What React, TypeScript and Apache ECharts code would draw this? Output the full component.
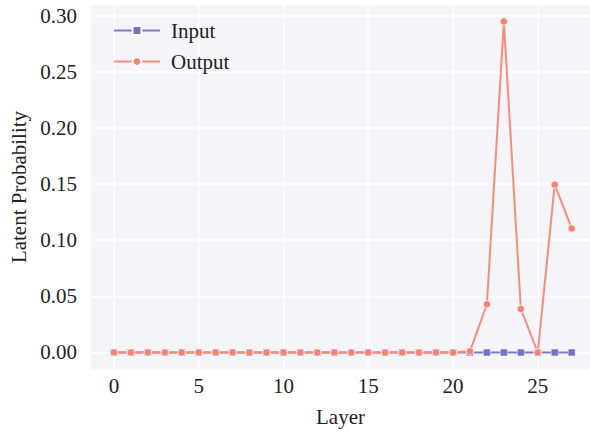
import React, { useEffect, useRef } from "react";
import * as echarts from "echarts";

const layers: number[] = Array.from({ length: 28 }, (_, i) => i);
const inputValues: number[] = [
  0, 0, 0, 0, 0, 0, 0, 0, 0, 0, 0, 0, 0, 0, 0, 0, 0, 0, 0, 0, 0, 0, 0, 0, 0, 0, 0, 0,
];
const outputValues: number[] = [
  0, 0, 0, 0, 0, 0, 0, 0, 0, 0, 0, 0, 0, 0, 0, 0, 0, 0, 0, 0, 0, 0.001, 0.043, 0.2948,
  0.0388, 0, 0.1495, 0.1105,
];
const xTicks: number[] = [0, 5, 10, 15, 20, 25];
const yTicks: number[] = [0, 0.05, 0.1, 0.15, 0.2, 0.25, 0.3];

const FONT = "Liberation Serif";

export default function App() {
  const ref = useRef<HTMLDivElement>(null);
  useEffect(() => {
    document.body.style.margin = "0";
    const chart = echarts.init(ref.current!, null, { renderer: "svg" });
    chart.setOption({
      animation: false,
      backgroundColor: "#ffffff",
      textStyle: { fontFamily: FONT },
      grid: {
        left: 91,
        right: 0,
        top: 5,
        bottom: 63,
        show: true,
        backgroundColor: "#f4f4f9",
        borderWidth: 0,
      },
      legend: {
        left: 108,
        top: 15,
        orient: "vertical",
        itemWidth: 46,
        itemHeight: 11,
        itemGap: 10,
        textStyle: { fontFamily: FONT, fontSize: 21, color: "#222", padding: [0, 0, 0, 6] },
        data: ["Input", "Output"],
      },
      xAxis: {
        type: "value",
        min: -1.35,
        max: 28.08,
        name: "Layer",
        nameLocation: "middle",
        nameGap: 37,
        nameTextStyle: { fontFamily: FONT, fontSize: 21, color: "#222" },
        axisLine: { show: false },
        axisTick: { show: false, customValues: xTicks },
        axisLabel: {
          customValues: xTicks,
          fontFamily: FONT,
          fontSize: 21,
          color: "#222",
          margin: 6,
        },
        splitLine: { show: true, lineStyle: { color: "#ffffff", width: 1.5 } },
      },
      yAxis: {
        type: "value",
        min: -0.0147,
        max: 0.3095,
        name: "Latent Probability",
        nameLocation: "middle",
        nameGap: 60,
        nameTextStyle: { fontFamily: FONT, fontSize: 21, color: "#222" },
        axisLine: { show: false },
        axisTick: { show: false, customValues: yTicks },
        axisLabel: {
          customValues: yTicks,
          fontFamily: FONT,
          fontSize: 21,
          color: "#222",
          margin: 14,
          formatter: (v: number) => v.toFixed(2),
        },
        splitLine: { show: true, lineStyle: { color: "#ffffff", width: 1.5 } },
      },
      series: [
        {
          name: "Input",
          type: "line",
          data: layers.map((l, i) => [l, inputValues[i]]),
          symbol: "rect",
          symbolSize: 7,
          lineStyle: { color: "#7f7bc6", width: 2 },
          itemStyle: { color: "#7570bf", borderColor: "#ffffff", borderWidth: 0.5 },
        },
        {
          name: "Output",
          type: "line",
          data: layers.map((l, i) => [l, outputValues[i]]),
          symbol: "circle",
          symbolSize: 7.5,
          lineStyle: { color: "#f58d7c", width: 2 },
          itemStyle: { color: "#f4846f", borderColor: "#ffffff", borderWidth: 0.8 },
        },
      ],
    });
    return () => chart.dispose();
  }, []);
  return <div ref={ref} style={{ width: 590, height: 432 }} />;
}
